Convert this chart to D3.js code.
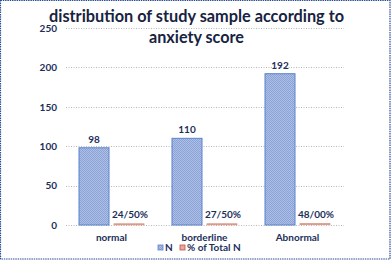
<!DOCTYPE html>
<html><head><meta charset="utf-8">
<script src="https://cdn.jsdelivr.net/npm/d3@7"></script>
<style>body{margin:0;background:#fff}svg{display:block}text{font-family:Lato,"Open Sans",sans-serif}</style>
</head><body>
<svg id="c" width="391" height="260"></svg>
<script>
const categories = ["normal", "borderline", "Abnormal"];
const nValues = [98, 110, 192];
const pctValues = [0.245, 0.275, 0.48];
const pctLabels = ["24/50%", "27/50%", "48/00%"];
const yTicks = [0, 50, 100, 150, 200, 250];
const seriesNames = ["N", "% of Total N"];
const titleLines = ["distribution of study sample according to", "anxiety score"];

const svg = d3.select("#c");
const W = 391, H = 260;
const navy = "#1b2f5a";

// frame
svg.append("rect").attr("x", 0.5).attr("y", 0.5).attr("width", W - 1.5).attr("height", H - 1.5)
  .attr("fill", "#fff").attr("stroke", "#2a4f96").attr("stroke-width", 1.2).attr("stroke-dasharray", "1.5,0.8");

const x = d3.scaleBand().domain(categories).range([66, 345]).padding(0);
const x1 = d3.scaleBand().domain(["N", "pct"]).range([13, 78]).paddingInner(5 / 35).paddingOuter(0);
const y = d3.scaleLinear().domain([0, 250]).range([225, 28]);

// dither pattern for N bars
const defs = svg.append("defs");
const pat = defs.append("pattern").attr("id", "dith").attr("width", 2).attr("height", 2).attr("patternUnits", "userSpaceOnUse");
pat.append("rect").attr("width", 2).attr("height", 2).attr("fill", "#a9c3dc");
pat.append("rect").attr("width", 1).attr("height", 1).attr("fill", "#8f9fe0");
pat.append("rect").attr("x", 1).attr("y", 1).attr("width", 1).attr("height", 1).attr("fill", "#8f9fe0");

// gridlines
svg.append("g").selectAll("line").data(yTicks).join("line")
  .attr("x1", 66).attr("x2", 344).attr("y1", d => Math.round(y(d)) + 0.5).attr("y2", d => Math.round(y(d)) + 0.5)
  .attr("stroke", "#b8b8b8").attr("stroke-width", 1).attr("stroke-dasharray", "1,1.5");

// y axis
const ya = svg.append("g").attr("transform", "translate(66,0)")
  .call(d3.axisLeft(y).tickValues(yTicks).tickSize(0).tickPadding(9));
ya.select(".domain").remove();
ya.selectAll("text").attr("fill", navy).attr("font-size", 10).attr("font-weight", "bold")
  .style("font-family", "Lato, sans-serif");

// N bars
svg.append("g").selectAll("rect").data(categories).join("rect")
  .attr("x", (d) => x(d) + x1("N")).attr("width", x1.bandwidth())
  .attr("y", (d, i) => y(nValues[i])).attr("height", (d, i) => y(0) - y(nValues[i]))
  .attr("fill", "url(#dith)").attr("stroke", "#5b82cc").attr("stroke-width", 1);

// pct bars
svg.append("g").selectAll("rect").data(categories).join("rect")
  .attr("x", (d) => x(d) + x1("pct")).attr("width", x1.bandwidth())
  .attr("y", (d, i) => y(pctValues[i]) - 1).attr("height", (d, i) => Math.max(1, y(0) - y(pctValues[i])))
  .attr("fill", "#e8b3a8").attr("stroke", "#d9907f").attr("stroke-width", 0.8);

// value labels
svg.append("g").selectAll("text").data(categories).join("text")
  .attr("x", d => x(d) + x1("N") + x1.bandwidth() / 2)
  .attr("y", (d, i) => y(nValues[i]) - 5)
  .attr("text-anchor", "middle").attr("fill", navy).attr("font-size", 10).attr("font-weight", "bold")
  .text((d, i) => nValues[i]);
svg.append("g").selectAll("text").data(categories).join("text")
  .attr("x", d => x(d) + x1("pct") + x1.bandwidth() / 2 + 1)
  .attr("y", (d, i) => y(pctValues[i]) - 7)
  .attr("text-anchor", "middle").attr("fill", navy).attr("font-size", 10).attr("font-weight", "bold")
  .text((d, i) => pctLabels[i]);

// category labels
svg.append("g").selectAll("text").data(categories).join("text")
  .attr("x", d => x(d) + x.bandwidth() / 2 - 1)
  .attr("y", 241)
  .attr("text-anchor", "middle").attr("fill", navy).attr("font-size", 10).attr("font-weight", "bold")
  .text(d => d);

// legend
const leg = [{name: seriesNames[0], x: 158, fill: "url(#dith)", stroke: "#5b82cc"},
             {name: seriesNames[1], x: 180, fill: "#e8a8a0", stroke: "#c0504d"}];
const lg = svg.append("g").selectAll("g").data(leg).join("g").attr("transform", d => `translate(${d.x},245)`);
lg.append("rect").attr("width", 5).attr("height", 5).attr("fill", d => d.fill).attr("stroke", d => d.stroke).attr("stroke-width", 0.8);
lg.append("text").attr("x", 7).attr("y", 6).attr("fill", navy).attr("font-size", 10).attr("font-weight", "bold").text(d => d.name);

// title
const tw = [295, 95];
svg.append("g").selectAll("text").data(titleLines).join("text")
  .attr("x", 196.5).attr("y", (d, i) => 22 + i * 21)
  .attr("text-anchor", "middle").attr("fill", "#17233f").attr("font-size", 17).attr("font-weight", "bold")
  .attr("textLength", (d, i) => tw[i]).attr("lengthAdjust", "spacingAndGlyphs")
  .text(d => d);
</script>
</body></html>
